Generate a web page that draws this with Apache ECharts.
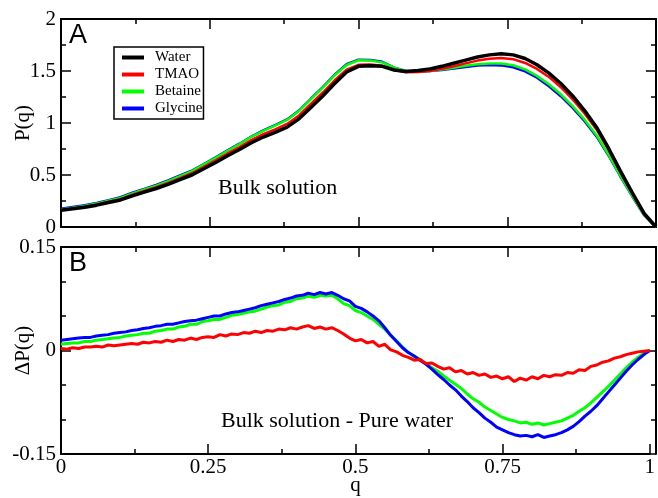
<!DOCTYPE html>
<html><head><meta charset="utf-8">
<script src="https://cdn.jsdelivr.net/npm/echarts@6/dist/echarts.min.js"></script>
<style>
html,body{margin:0;padding:0;background:#fff}
#wrap{position:relative;width:658px;height:498px}
#c,#o{position:absolute;left:0;top:0;width:658px;height:498px}
#o{pointer-events:none}
</style>
</head><body><div id="wrap"><div id="c"></div><div id="o"></div></div>
<script>
// Panel A: P(q), sampled every 0.02 in q
const qA = [0.00,0.02,0.04,0.06,0.08,0.10,0.12,0.14,0.16,0.18,0.20,0.22,0.24,0.26,0.28,0.30,0.32,0.34,0.36,0.38,0.40,0.42,0.44,0.46,0.48,0.50,0.52,0.54,0.56,0.58,0.60,0.62,0.64,0.66,0.68,0.70,0.72,0.74,0.76,0.78,0.80,0.82,0.84,0.86,0.88,0.90,0.92,0.94,0.96,0.98,1.00];
const waterA = [0.16,0.175,0.19,0.21,0.235,0.26,0.30,0.335,0.37,0.41,0.455,0.50,0.56,0.62,0.685,0.745,0.81,0.865,0.91,0.96,1.04,1.15,1.26,1.38,1.49,1.545,1.55,1.545,1.51,1.495,1.505,1.52,1.545,1.575,1.605,1.635,1.655,1.665,1.655,1.62,1.56,1.48,1.38,1.26,1.12,0.96,0.76,0.54,0.33,0.13,0.0];
const tmaoA = [0.163,0.179,0.195,0.216,0.242,0.268,0.31,0.346,0.382,0.424,0.47,0.517,0.579,0.64,0.707,0.769,0.836,0.892,0.939,0.991,1.072,1.184,1.293,1.411,1.512,1.559,1.562,1.551,1.51,1.487,1.49,1.501,1.521,1.546,1.573,1.60,1.618,1.625,1.614,1.577,1.52,1.443,1.344,1.227,1.091,0.938,0.743,0.529,0.325,0.128,0.0];
const betaineA = [0.169,0.186,0.203,0.225,0.252,0.279,0.322,0.36,0.398,0.441,0.489,0.538,0.602,0.665,0.733,0.797,0.866,0.925,0.975,1.03,1.115,1.229,1.34,1.459,1.558,1.603,1.60,1.583,1.532,1.50,1.496,1.501,1.515,1.532,1.55,1.565,1.573,1.573,1.555,1.515,1.453,1.372,1.276,1.162,1.032,0.883,0.697,0.493,0.30,0.117,0.0];
const glycineA = [0.175,0.192,0.209,0.231,0.258,0.286,0.329,0.367,0.405,0.448,0.495,0.543,0.606,0.67,0.738,0.801,0.87,0.93,0.979,1.034,1.119,1.233,1.344,1.464,1.565,1.609,1.606,1.588,1.532,1.499,1.497,1.50,1.51,1.525,1.539,1.552,1.557,1.554,1.536,1.496,1.435,1.354,1.258,1.145,1.017,0.871,0.69,0.488,0.296,0.114,0.0];

// Panel B: ΔP(q) = bulk solution - pure water, sampled every 0.01 in q
const tmaoB = [0.003,0.002,0.004,0.003,0.005,0.005,0.006,0.005,0.008,0.007,0.008,0.009,0.010,0.009,0.012,0.011,0.013,0.012,0.015,0.013,0.016,0.015,0.018,0.016,0.019,0.020,0.019,0.023,0.021,0.024,0.023,0.026,0.025,0.028,0.026,0.029,0.028,0.031,0.030,0.033,0.031,0.034,0.036,0.032,0.034,0.031,0.033,0.029,0.024,0.018,0.014,0.016,0.011,0.013,0.006,0.009,0.001,-0.002,-0.007,-0.010,-0.014,-0.013,-0.019,-0.018,-0.023,-0.027,-0.025,-0.031,-0.029,-0.034,-0.032,-0.036,-0.034,-0.039,-0.037,-0.041,-0.038,-0.045,-0.040,-0.043,-0.038,-0.041,-0.036,-0.038,-0.035,-0.036,-0.032,-0.033,-0.028,-0.029,-0.023,-0.021,-0.017,-0.015,-0.011,-0.009,-0.006,-0.004,-0.002,-0.001,0.000];
const betaineB = [0.009,0.010,0.011,0.011,0.013,0.013,0.015,0.016,0.017,0.018,0.019,0.021,0.022,0.023,0.025,0.025,0.028,0.029,0.031,0.031,0.034,0.035,0.038,0.038,0.042,0.043,0.045,0.045,0.048,0.051,0.052,0.054,0.056,0.057,0.060,0.063,0.065,0.066,0.070,0.071,0.075,0.076,0.079,0.077,0.080,0.079,0.080,0.075,0.068,0.065,0.058,0.055,0.050,0.045,0.038,0.031,0.022,0.014,0.005,-0.003,-0.009,-0.013,-0.019,-0.025,-0.030,-0.037,-0.043,-0.049,-0.055,-0.063,-0.070,-0.075,-0.082,-0.087,-0.092,-0.097,-0.100,-0.102,-0.105,-0.104,-0.107,-0.105,-0.108,-0.106,-0.104,-0.102,-0.098,-0.094,-0.088,-0.083,-0.076,-0.068,-0.060,-0.052,-0.043,-0.034,-0.025,-0.017,-0.010,-0.004,0.000];
const glycineB = [0.015,0.016,0.017,0.018,0.019,0.019,0.021,0.022,0.023,0.025,0.026,0.027,0.029,0.030,0.032,0.033,0.035,0.036,0.038,0.038,0.040,0.042,0.043,0.044,0.046,0.048,0.050,0.050,0.053,0.055,0.056,0.058,0.060,0.062,0.065,0.067,0.069,0.071,0.074,0.076,0.079,0.080,0.083,0.081,0.084,0.082,0.084,0.080,0.075,0.072,0.064,0.061,0.056,0.050,0.043,0.033,0.022,0.013,0.004,-0.003,-0.008,-0.014,-0.020,-0.027,-0.035,-0.042,-0.050,-0.057,-0.066,-0.074,-0.083,-0.090,-0.098,-0.104,-0.111,-0.115,-0.119,-0.122,-0.124,-0.123,-0.125,-0.122,-0.126,-0.124,-0.122,-0.119,-0.115,-0.110,-0.103,-0.095,-0.088,-0.080,-0.070,-0.060,-0.050,-0.040,-0.030,-0.021,-0.013,-0.006,0.000];
const qB = tmaoB.map((_, i) => +(i * 0.01).toFixed(2));

const seriesNames = ['Water','TMAO','Betaine','Glycine'];
const colors = {Water:'#000000', TMAO:'#ff0000', Betaine:'#00ff00', Glycine:'#0000ff'};

const pair = (xs, ys) => xs.map((x, i) => [x, ys[i]]);
const SERIF = 'Liberation Serif';
const FS = 21;

function frameAxis(grid, pos, min, max, interval, minorSplit, showLabels, name, gap, margin) {
  const o = {
    type:'value', gridIndex:grid, position:pos, min:min, max:max, interval:interval,
    axisLine:{show:true, onZero:false, lineStyle:{color:'#000', width:2}},
    axisTick:{show:true, inside:true, length:10, lineStyle:{color:'#000', width:1.5}},
    minorTick:{show:true, splitNumber:minorSplit, length:5, lineStyle:{color:'#000', width:1.5}},
    splitLine:{show:false}, minorSplitLine:{show:false},
    axisLabel:{show:showLabels, color:'#000', fontFamily:SERIF, fontSize:FS, margin:margin},
    nameMoveOverlap:false
  };
  if (name) {
    o.name = name; o.nameLocation = 'middle'; o.nameGap = gap;
    o.nameTextStyle = {color:'#000', fontFamily:SERIF, fontSize:FS};
  }
  return o;
}

function line(name, xs, ys, idx, width) {
  return {type:'line', xAxisIndex:idx, yAxisIndex:idx, showSymbol:false,
    data:pair(xs, ys), lineStyle:{color:colors[name], width:width}};
}

const gA = {left:61, top:19, width:595, height:208};
const gB = {left:61, top:247, width:595, height:207};

// Base chart: frames, ticks, tick labels and all curves
const chart = echarts.init(document.getElementById('c'));
chart.setOption({
  animation:false,
  grid:[gA, gB, Object.assign({}, gA), Object.assign({}, gB)],
  xAxis:[
    frameAxis(0,'bottom',0,1,0.25,2,false,'',0,3),
    frameAxis(1,'bottom',0,1,0.25,2,true,'q',21,3),
    frameAxis(2,'top',0,1,0.25,2,false,'',0,3),
    frameAxis(3,'top',0,1,0.25,2,false,'',0,3)
  ],
  yAxis:[
    frameAxis(0,'left',0,2,0.5,2,true,'P(q)',27,5),
    frameAxis(1,'left',-0.15,0.15,0.15,3,true,'ΔP(q)',27,5),
    frameAxis(2,'right',0,2,0.5,2,false,'',0,5),
    frameAxis(3,'right',-0.15,0.15,0.15,3,false,'',0,5)
  ],
  series:[
    line('Glycine', qA, glycineA, 0, 2.5),
    line('Betaine', qA, betaineA, 0, 2.5),
    line('TMAO', qA, tmaoA, 0, 2.5),
    line('Water', qA, waterA, 0, 3.5),
    line('Betaine', qB, betaineB, 1, 3),
    line('Glycine', qB, glycineB, 1, 3),
    line('TMAO', qB, tmaoB, 1, 3)
  ]
});

// Overlay: legend and panel texts
const overlay = echarts.init(document.getElementById('o'));
overlay.setOption({
  animation:false,
  backgroundColor:'transparent',
  grid:{left:61, top:19, width:595, height:208},
  xAxis:{type:'value', show:false, min:0, max:1},
  yAxis:{type:'value', show:false, min:0, max:2},
  legend:{
    data:seriesNames, orient:'vertical', left:114, top:47,
    backgroundColor:'#fff', borderColor:'#000', borderWidth:1.5, borderRadius:0,
    padding:[3,1,3,8], itemGap:2, itemWidth:22, itemHeight:4, icon:'rect',
    textStyle:{color:'#000', fontFamily:SERIF, fontSize:15, lineHeight:14, padding:[0,0,0,6]},
    selectedMode:false
  },
  graphic:[
    {type:'text', left:69, top:22, style:{text:'A', font:'27px "Liberation Sans"', fill:'#000'}},
    {type:'text', left:69, top:250, style:{text:'B', font:'27px "Liberation Sans"', fill:'#000'}},
    {type:'text', left:218, top:177, style:{text:'Bulk solution', font:'22px "Liberation Serif"', fill:'#000'}},
    {type:'text', left:221, top:410, style:{text:'Bulk solution - Pure water', font:'22px "Liberation Serif"', fill:'#000'}}
  ],
  series: seriesNames.map(n => ({type:'line', name:n, data:[], showSymbol:false,
    lineStyle:{color:colors[n]}, itemStyle:{color:colors[n]}}))
});
</script>
</body></html>
